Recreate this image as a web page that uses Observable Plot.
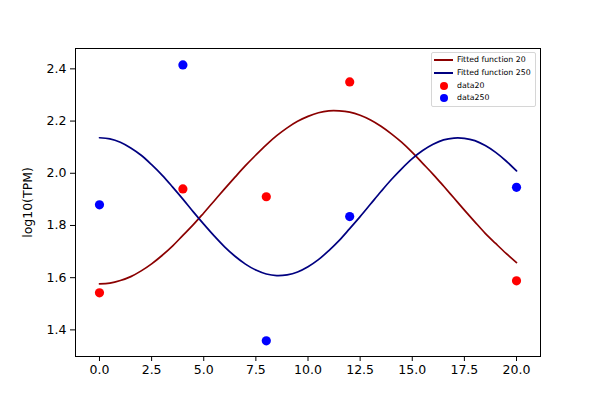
<!DOCTYPE html>
<html>
<head>
<meta charset="utf-8">
<script src="https://cdn.jsdelivr.net/npm/d3@7"></script>
<script src="https://cdn.jsdelivr.net/npm/@observablehq/plot@0.6"></script>
<style>
  body { margin: 0; background: #fff; }
  #wrap { position: relative; width: 600px; height: 400px; font-family: "DejaVu Sans", sans-serif; }
  #legend {
    position: absolute; left: 431px; top: 52px; width: 105px; height: 55px;
    border: 1px solid #d6d6d6; border-radius: 2px; background: rgba(255,255,255,0.8);
    font-size: 7.8px; color: #000; box-sizing: border-box;
  }
  .item { position: absolute; left: 0; height: 10px; }
  .sw { position: absolute; left: 2px; width: 19px; height: 2px; }
  .dt { position: absolute; left: 8px; width: 8px; height: 8px; border-radius: 50%; }
  .lb { position: absolute; left: 25px; white-space: nowrap; line-height: 10px; }
</style>
</head>
<body>
<div id="wrap"></div>
<script>
// Fitted curves (every 0.5 on x)
const fitX = [0,0.5,1,1.5,2,2.5,3,3.5,4,4.5,5,5.5,6,6.5,7,7.5,8,8.5,9,9.5,10,10.5,11,11.5,12,12.5,13,13.5,14,14.5,15,15.5,16,16.5,17,17.5,18,18.5,19,19.5,20];
const fit20 = [1.576,1.579,1.589,1.604,1.626,1.653,1.685,1.721,1.762,1.803,1.848,1.894,1.940,1.985,2.029,2.070,2.109,2.144,2.174,2.199,2.218,2.232,2.239,2.239,2.234,2.222,2.204,2.180,2.151,2.118,2.080,2.038,1.996,1.951,1.905,1.859,1.814,1.770,1.731,1.693,1.658];
const fit250 = [2.136,2.132,2.119,2.097,2.069,2.033,1.993,1.948,1.901,1.852,1.805,1.760,1.718,1.682,1.652,1.629,1.614,1.608,1.611,1.622,1.642,1.669,1.704,1.743,1.788,1.834,1.882,1.930,1.976,2.018,2.056,2.087,2.111,2.128,2.135,2.134,2.125,2.106,2.080,2.047,2.009];

// Observed data
const dataX = [0,4,8,12,20];
const data20 = [1.542,1.940,1.910,2.350,1.588];
const data250 = [1.879,2.415,1.358,1.834,1.946];

const xTicks = [0,2.5,5,7.5,10,12.5,15,17.5,20];
const yTicks = [1.4,1.6,1.8,2.0,2.2,2.4];

const legendItems = [
  {type:"line", color:"#8B0000", label:"Fitted function 20"},
  {type:"line", color:"#000080", label:"Fitted function 250"},
  {type:"dot", color:"red", label:"data20"},
  {type:"dot", color:"blue", label:"data250"}
];

const fitTable = fitX.map((x,i) => ({x, a: fit20[i], b: fit250[i]}));
const dataTable = dataX.map((x,i) => ({x, a: data20[i], b: data250[i]}));

const chart = Plot.plot({
  width: 600, height: 400,
  marginLeft: 75, marginRight: 60, marginTop: 48, marginBottom: 44,
  style: {fontFamily: "DejaVu Sans, sans-serif", fontSize: "12.5px", color: "#000", background: "#fff"},
  x: {domain: [-1.15, 21.15]},
  y: {domain: [1.298, 2.478]},
  marks: [
    Plot.axisX({ticks: xTicks, tickFormat: d3.format(".1f"), tickSize: 5, tickPadding: 4, label: null, stroke: "#000"}),
    Plot.axisY({ticks: yTicks, tickFormat: d3.format(".1f"), tickSize: 5, tickPadding: 4, label: "log10(TPM)", labelAnchor: "center", labelArrow: "none", labelOffset: 52, stroke: "#000"}),
    Plot.line(fitTable, {x: "x", y: "a", stroke: "#8B0000", strokeWidth: 1.7, curve: "catmull-rom"}),
    Plot.line(fitTable, {x: "x", y: "b", stroke: "#000080", strokeWidth: 1.7, curve: "catmull-rom"}),
    Plot.dot(dataTable, {x: "x", y: "a", r: 4.6, fill: "red", stroke: "none"}),
    Plot.dot(dataTable, {x: "x", y: "b", r: 4.6, fill: "blue", stroke: "none"}),
    Plot.frame({stroke: "#000", strokeWidth: 1})
  ]
});
const wrap = document.getElementById("wrap");
wrap.appendChild(chart);

const lg = document.createElement("div");
lg.id = "legend";
legendItems.forEach((it, i) => {
  const row = document.createElement("div");
  row.className = "item";
  row.style.top = (2 + i * 12.8) + "px";
  row.style.width = "100%";
  const m = document.createElement("div");
  if (it.type === "line") { m.className = "sw"; m.style.background = it.color; m.style.top = "4px"; }
  else { m.className = "dt"; m.style.background = it.color; m.style.top = "1px"; }
  const t = document.createElement("div");
  t.className = "lb"; t.textContent = it.label; t.style.top = "0px";
  row.appendChild(m); row.appendChild(t);
  lg.appendChild(row);
});
wrap.appendChild(lg);
</script>
</body>
</html>
